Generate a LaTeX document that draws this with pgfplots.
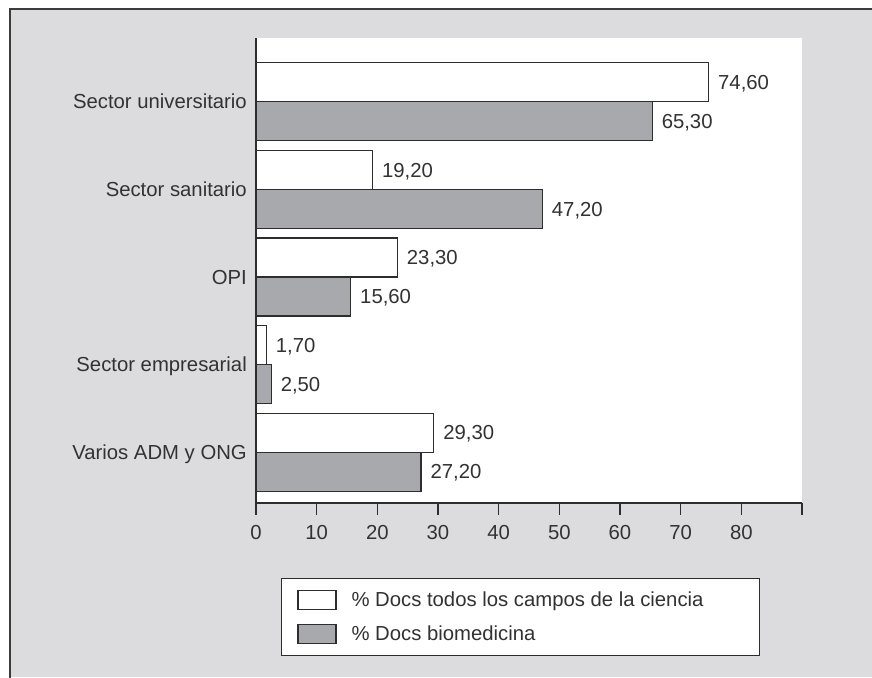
\documentclass[border=0pt]{standalone}
\usepackage{pgfplots}
\pgfplotsset{compat=1.18}
\usepackage{fontspec}
\setmainfont{Liberation Sans}
\definecolor{bgcol}{RGB}{220,220,223}
\definecolor{framecol}{RGB}{60,60,60}
\definecolor{txt}{RGB}{50,50,50}
\definecolor{barg}{RGB}{168,169,173}
\definecolor{edge}{RGB}{45,45,45}
\begin{document}
\begin{tikzpicture}
\useasboundingbox (0pt,0pt) rectangle (872pt,677pt);
\fill[white] (0pt,0pt) rectangle (872pt,677pt);
\fill[bgcol] (10pt,0pt) rectangle (880pt,668pt);
\draw[framecol, line width=2pt] (10pt,-5pt) -- (10pt,668pt) -- (880pt,668pt);
\begin{axis}[
  at={(256pt,174pt)}, anchor=south west,
  scale only axis, width=546pt, height=465pt,
  xmin=0, xmax=90, ymin=-0.58, ymax=4.728,
  xbar, bar width=39pt,
  separate axis lines,
  axis x line=bottom, axis y line=left,
  axis line style={-, line width=1.5pt, draw=edge},
  axis background/.style={fill=white},
  xtick={0,10,...,90},
  xticklabels={0,10,20,30,40,50,60,70,80,},
  tick align=outside,
  x tick style={line width=1.5pt, draw=edge},
  major tick length=12pt,
  ytick={0,1,2,3,4},
  yticklabels={Varios ADM y ONG, Sector empresarial, OPI, Sector sanitario, Sector universitario},
  y tick style={draw=none},
  tick label style={font=\fontsize{20.3}{24}\selectfont, text=txt},
  xticklabel style={anchor=base, inner sep=0pt, yshift=-25pt},
  yticklabel style={anchor=base east, inner sep=0pt, xshift=3pt, yshift=-7.2pt},
  /pgf/number format/assume math mode=true,
  nodes near coords={\pgfmathprintnumber[fixed,fixed zerofill,precision=2,use comma]{\pgfplotspointmeta}},
  nodes near coords style={font=\fontsize{20.3}{24}\selectfont, text=txt, anchor=base west, inner sep=0pt, xshift=9pt, yshift=-7.2pt},
  legend image code/.code={\draw[#1, line width=1.2pt] (0pt,-9.5pt) rectangle (38pt,9.5pt);},
  legend style={at={(0.04524,-0.1619)}, anchor=north west, draw=edge, line width=1.2pt, fill=white,
    inner xsep=16pt, inner ysep=11pt, row sep=14pt,
    nodes={inner sep=0pt, font=\fontsize{20.3}{24}\selectfont, text=txt},
    /tikz/every odd column/.append style={column sep=15pt}},
  legend cell align=left,
]
\addplot[fill=white, draw=edge, line width=1.2pt, bar shift=19.5pt] coordinates {(29.3,0) (1.7,1) (23.3,2) (19.2,3) (74.6,4)};
\addlegendentry{\makebox[392pt][l]{\% Docs todos los campos de la ciencia}}
\addplot[fill=barg, draw=edge, line width=1.2pt, bar shift=-19.5pt] coordinates {(27.2,0) (2.5,1) (15.6,2) (47.2,3) (65.3,4)};
\addlegendentry{\makebox[392pt][l]{\% Docs biomedicina}}
\end{axis}
\end{tikzpicture}
\end{document}
